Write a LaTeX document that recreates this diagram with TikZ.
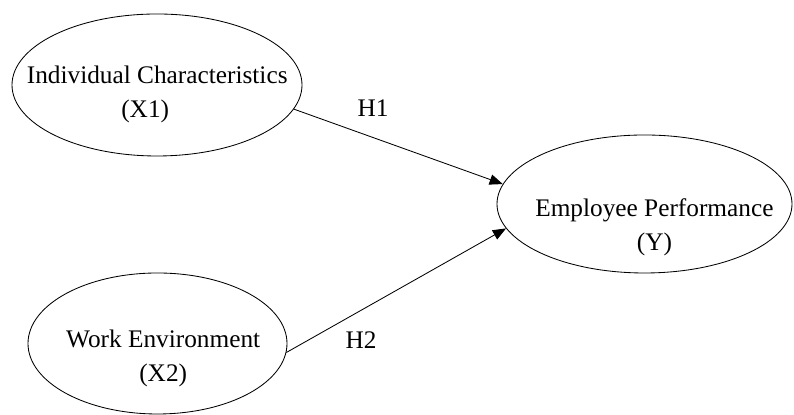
\documentclass[tikz,border=0pt]{standalone}
\usepackage{fontspec}
\setmainfont{Liberation Serif}
\usepackage{tikz}
\usetikzlibrary{shapes.geometric,arrows.meta}

\begin{document}
\begin{tikzpicture}[
	oval/.style={draw, ellipse, line width=0.6pt, inner sep=0pt},
	txt/.style={align=center, inner sep=0pt, font=\fontsize{18}{24}\selectfont},
	path/.style={line width=0.6pt, -{Triangle[length=0.33cm, width=0.26cm]}}
	]
		%%%%% START %%%%%
		
		\useasboundingbox (0, 0) rectangle (19.85, 10.375);
		
		\node[oval, minimum width=7.25cm, minimum height=3.55cm] (ic) at (3.925, 8.25) {};
		\node[txt] (ictext) at (3.93, 8.01) {Individual Characteristics\\(X1)\hspace*{0.6cm}};
		
		\node[oval, minimum width=6.475cm, minimum height=3.525cm] (we) at (3.9375, 1.7875) {};
		\node[txt] (wetext) at (4.08, 1.41) {Work Environment\\(X2)};
		
		\node[oval, minimum width=7.375cm, minimum height=3.45cm] (ep) at (16.1125, 5.275) {};
		\node[txt] (eptext) at (16.36, 4.685) {Employee Performance\\(Y)};
		
		\draw[path] (ic.-10) -- (ep.172);
		\draw[path] (we.-4) -- (ep.-170);
		
		\node[txt] (h1) at (9.325, 7.675) {H1};
		\node[txt] (h2) at (9.025, 1.875) {H2};
		
		%%%%% END %%%%%
	\end{tikzpicture}
\end{document}
